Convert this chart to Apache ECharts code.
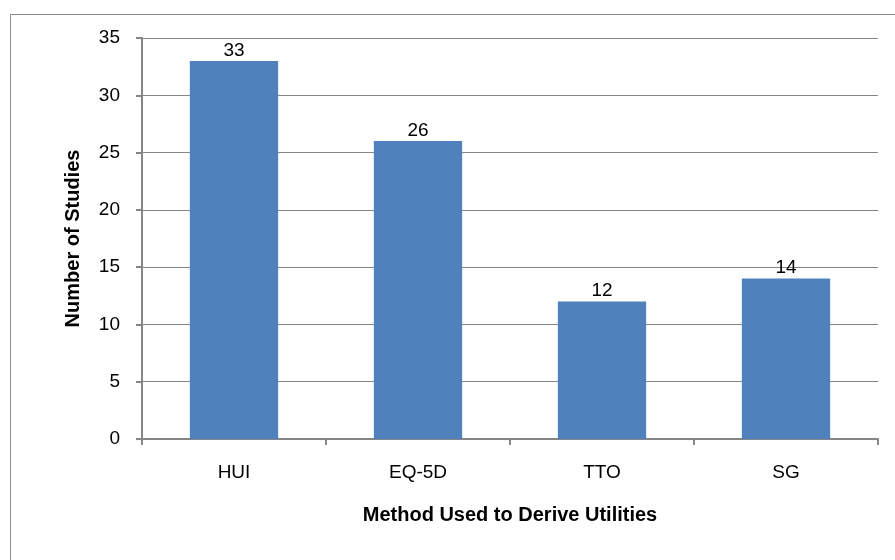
<!DOCTYPE html>
<html>
<head>
<meta charset="utf-8">
<script src="https://cdn.jsdelivr.net/npm/echarts@6/dist/echarts.min.js"></script>
<style>
  html, body { margin: 0; padding: 0; background: #fff; }
  #frame { position: absolute; left: 10px; top: 14px; width: 900px; height: 560px; border: 1px solid #8c8c8c; box-sizing: border-box; }
  #main { position: absolute; left: 0; top: 0; width: 895px; height: 560px; }
</style>
</head>
<body>
<div id="frame"></div>
<div id="main"></div>
<script>
var methods = ['HUI', 'EQ-5D', 'TTO', 'SG'];
var studies = [33, 26, 12, 14];

var chart = echarts.init(document.getElementById('main'));

var option = {
    animation: false,
    textStyle: { fontFamily: 'Liberation Sans, Arial, sans-serif' },
    grid: {
        left: 142,
        right: 17,
        top: 38,
        bottom: 121,
        containLabel: false
    },
    xAxis: {
        type: 'category',
        data: methods,
        name: 'Method Used to Derive Utilities',
        nameLocation: 'middle',
        nameGap: 66,
        nameTextStyle: { color: '#000', fontSize: 20, fontWeight: 'bold' },
        axisLine: { lineStyle: { color: '#868686', width: 2 } },
        axisTick: { show: true, length: 6, lineStyle: { color: '#868686', width: 2 } },
        axisLabel: { color: '#000', fontSize: 19, margin: 24 }
    },
    yAxis: {
        type: 'value',
        min: 0,
        max: 35,
        interval: 5,
        name: 'Number of Studies',
        nameLocation: 'middle',
        nameGap: 59,
        nameTextStyle: { color: '#000', fontSize: 20, fontWeight: 'bold' },
        axisLine: { show: true, lineStyle: { color: '#868686', width: 2 } },
        axisTick: { show: true, length: 6, lineStyle: { color: '#868686', width: 2 } },
        axisLabel: { color: '#000', fontSize: 19, margin: 22 },
        splitLine: { lineStyle: { color: '#868686', width: 1 } }
    },
    series: [{
        type: 'bar',
        data: studies,
        barWidth: '48%',
        itemStyle: { color: '#4F81BD' },
        label: {
            show: true,
            position: 'top',
            distance: 1,
            color: '#000',
            fontSize: 19
        }
    }]
};

chart.setOption(option);
</script>
</body>
</html>
